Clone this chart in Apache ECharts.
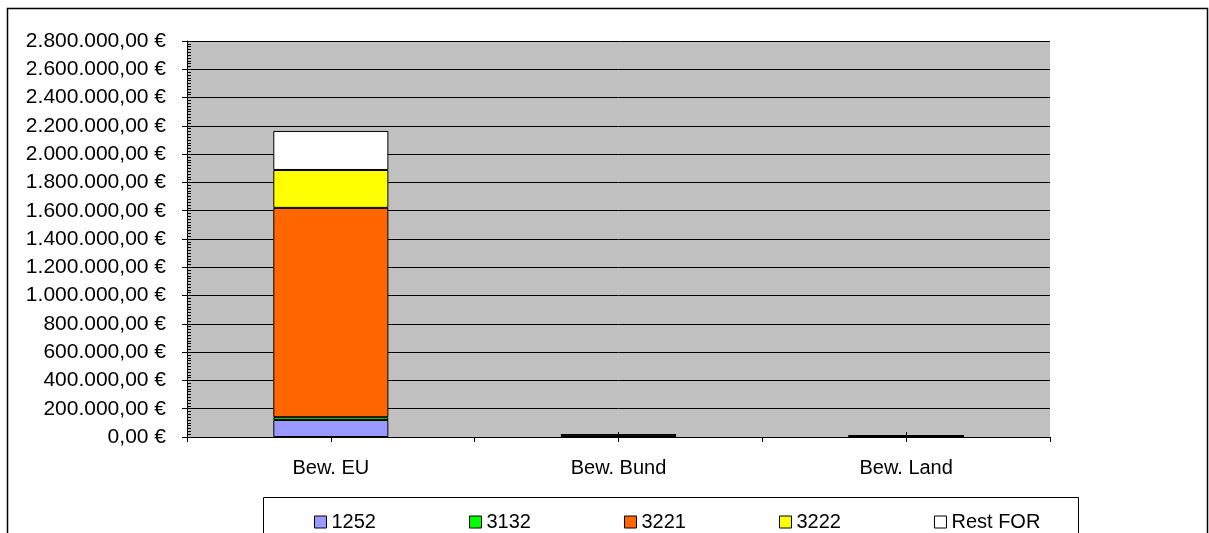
<!DOCTYPE html>
<html>
<head>
<meta charset="utf-8">
<script src="https://cdn.jsdelivr.net/npm/echarts@6/dist/echarts.min.js"></script>
<style>
  html, body { margin: 0; padding: 0; background: #fff; }
  #chart { width: 1209px; height: 533px; }
</style>
</head>
<body>
<div id="chart"></div>
<script>
// Kategorien und Werte (aus dem Bild geschaetzt)
var categories = ['Bew. EU', 'Bew. Bund', 'Bew. Land'];
var seriesNames = ['1252', '3132', '3221', '3222', 'Rest FOR'];
var v1252 = [120000, 0, 0];
var v3132 = [20000, 0, 0];
var v3221 = [1480000, 16000, 8000];
var v3222 = [268000, 0, 0];
var vRest = [276000, 0, 0];
var colors = ['#9999FF', '#00FF00', '#FF6600', '#FFFF00', '#FFFFFF'];

var yMin = 0, yMax = 2800000, yStep = 200000;

function euro(v) {
  var s = Math.round(v).toString().replace(/\B(?=(\d{3})+(?!\d))/g, '.');
  return s + ',00 €';
}

var myChart = echarts.init(document.getElementById('chart'));
var font = 'Liberation Sans, Arial, sans-serif';

var values = [v1252, v3132, v3221, v3222, vRest];
var series = seriesNames.map(function (name, i) {
  return {
    name: name,
    type: 'bar',
    stack: 'total',
    barWidth: '40%',
    data: values[i],
    itemStyle: { color: colors[i], borderColor: '#000', borderWidth: 1 },
    emphasis: { disabled: true }
  };
});

var option = {
  animation: false,
  textStyle: { fontFamily: font },
  grid: { left: 187, right: 159, top: 41, bottom: 96, backgroundColor: '#C0C0C0', show: true, borderWidth: 0 },
  legend: {
    data: seriesNames,
    left: 309,
    top: 507,
    itemWidth: 12,
    itemHeight: 12,
    itemGap: 93,
    icon: 'rect',
    textStyle: { fontSize: 20, color: '#000', fontFamily: font },
    itemStyle: { borderColor: '#000', borderWidth: 1 }
  },
  xAxis: [
    {
      type: 'category',
      data: categories,
      axisLine: { lineStyle: { color: '#000', width: 1 } },
      axisTick: { show: true, length: 5, lineStyle: { color: '#000' } },
      axisLabel: { fontSize: 20, color: '#000', margin: 21, fontFamily: font }
    },
    {
      type: 'category',
      data: categories,
      position: 'bottom',
      axisLine: { show: false },
      axisTick: { show: true, alignWithLabel: true, inside: true, length: 5, lineStyle: { color: '#000' } },
      axisLabel: { show: false }
    },
    {
      type: 'category',
      data: categories,
      position: 'bottom',
      axisLine: { show: false },
      axisTick: { show: true, alignWithLabel: true, length: 5, lineStyle: { color: '#000' } },
      axisLabel: { show: false }
    }
  ],
  yAxis: [
    {
      type: 'value',
      min: yMin,
      max: yMax,
      interval: yStep,
      axisLine: { show: true, lineStyle: { color: '#000' } },
      axisTick: { show: true, length: 5, lineStyle: { color: '#000' } },
      splitLine: { show: true, lineStyle: { color: '#000', width: 1 } },
      axisLabel: { fontSize: 21, color: '#000', margin: 21, fontFamily: font, formatter: euro }
    },
    {
      // innere Haupt- und Hilfsstriche
      type: 'value',
      position: 'left',
      min: yMin,
      max: yMax,
      interval: yStep,
      axisLine: { show: false },
      axisTick: { show: true, inside: true, length: 5, lineStyle: { color: '#000' } },
      minorTick: { show: true, splitNumber: 10, length: 4, lineStyle: { color: '#000' } },
      splitLine: { show: false },
      axisLabel: { show: false }
    }
  ],
  graphic: [
    { type: 'rect', shape: { x: 7.5, y: 8.5, width: 1200, height: 600 }, style: { fill: 'none', stroke: '#000', lineWidth: 1.5 }, z: -1 },
    { type: 'rect', shape: { x: 263.5, y: 497.5, width: 815, height: 60 }, style: { fill: 'none', stroke: '#000', lineWidth: 1 }, z: -1 }
  ],
  series: series
};

myChart.setOption(option);
</script>
</body>
</html>
